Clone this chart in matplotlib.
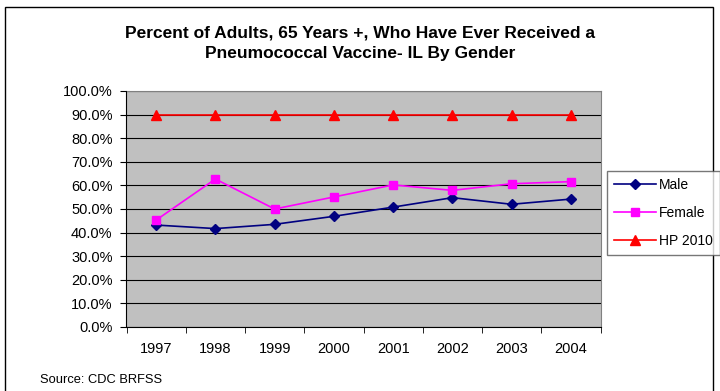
import matplotlib
matplotlib.use("Agg")
import matplotlib.pyplot as plt
from matplotlib.patches import Rectangle
from matplotlib.ticker import MultipleLocator, FuncFormatter

years = ["1997", "1998", "1999", "2000", "2001", "2002", "2003", "2004"]
male = [43.2, 41.7, 43.5, 46.9, 50.8, 54.8, 52.0, 54.2]
female = [45.3, 62.7, 50.0, 55.1, 60.2, 57.9, 60.7, 61.6]
hp2010 = [90.0] * 8

plt.rcParams["font.family"] = ["Liberation Sans", "DejaVu Sans"]

fig = plt.figure(figsize=(7.2, 3.91), dpi=100)
fig.patches.append(Rectangle((5 / 720, -0.1), 708 / 720, 1 - 7 / 391 + 0.1,
                             transform=fig.transFigure, fill=False,
                             edgecolor="black", linewidth=1.0))

ax = fig.add_axes([126.5 / 720, 1 - 327 / 391, 474 / 720, 236 / 391])
ax.set_facecolor("#c0c0c0")
xs = list(range(len(years)))
ax.plot(xs, male, color="#000080", marker="D", markersize=5, linewidth=1.2, label="Male")
ax.plot(xs, female, color="#ff00ff", marker="s", markersize=6, linewidth=1.2, label="Female")
ax.plot(xs, hp2010, color="#ff0000", marker="^", markersize=7, linewidth=1.2, label="HP 2010")

ax.set_xlim(-0.5, len(years) - 0.5)
ax.set_ylim(0, 100)
ax.set_xticks(xs)
ax.set_xticklabels(years, fontsize=10.5)
ax.set_xticks([x + 0.5 for x in range(-1, len(years))], minor=True)
ax.tick_params(axis="x", which="major", length=0, pad=11)
ax.tick_params(axis="x", which="minor", length=4, direction="out")
ax.yaxis.set_major_locator(MultipleLocator(10))
ax.yaxis.set_major_formatter(FuncFormatter(lambda v, p: f"{v:.1f}%"))
ax.tick_params(axis="y", labelsize=10.5, length=4, pad=6, direction="out")
ax.grid(axis="y", color="black", linewidth=0.8)
ax.set_axisbelow(True)
for side in ["top", "right"]:
    ax.spines[side].set_color("#808080")
ax.spines["left"].set_color("black")
ax.spines["bottom"].set_color("black")

fig.text(0.5, 1 - 43 / 391, "Percent of Adults, 65 Years +, Who Have Ever Received a\nPneumococcal Vaccine- IL By Gender",
         ha="center", va="center", fontsize=12.5, fontweight="bold", linespacing=1.45)

leg = fig.legend(loc="upper left", bbox_to_anchor=(607 / 720, 1 - 171 / 391),
                 fontsize=10, frameon=True, fancybox=False, handlelength=3.0,
                 borderpad=0.5, labelspacing=1.0, handletextpad=0.25,
                 borderaxespad=0)
leg.get_frame().set_edgecolor("#555555")
leg.get_frame().set_linewidth(1.0)

fig.text(40 / 720, 1 - 380 / 391, "Source: CDC BRFSS", fontsize=9.3, va="center")

fig.savefig("out.png", dpi=100)
